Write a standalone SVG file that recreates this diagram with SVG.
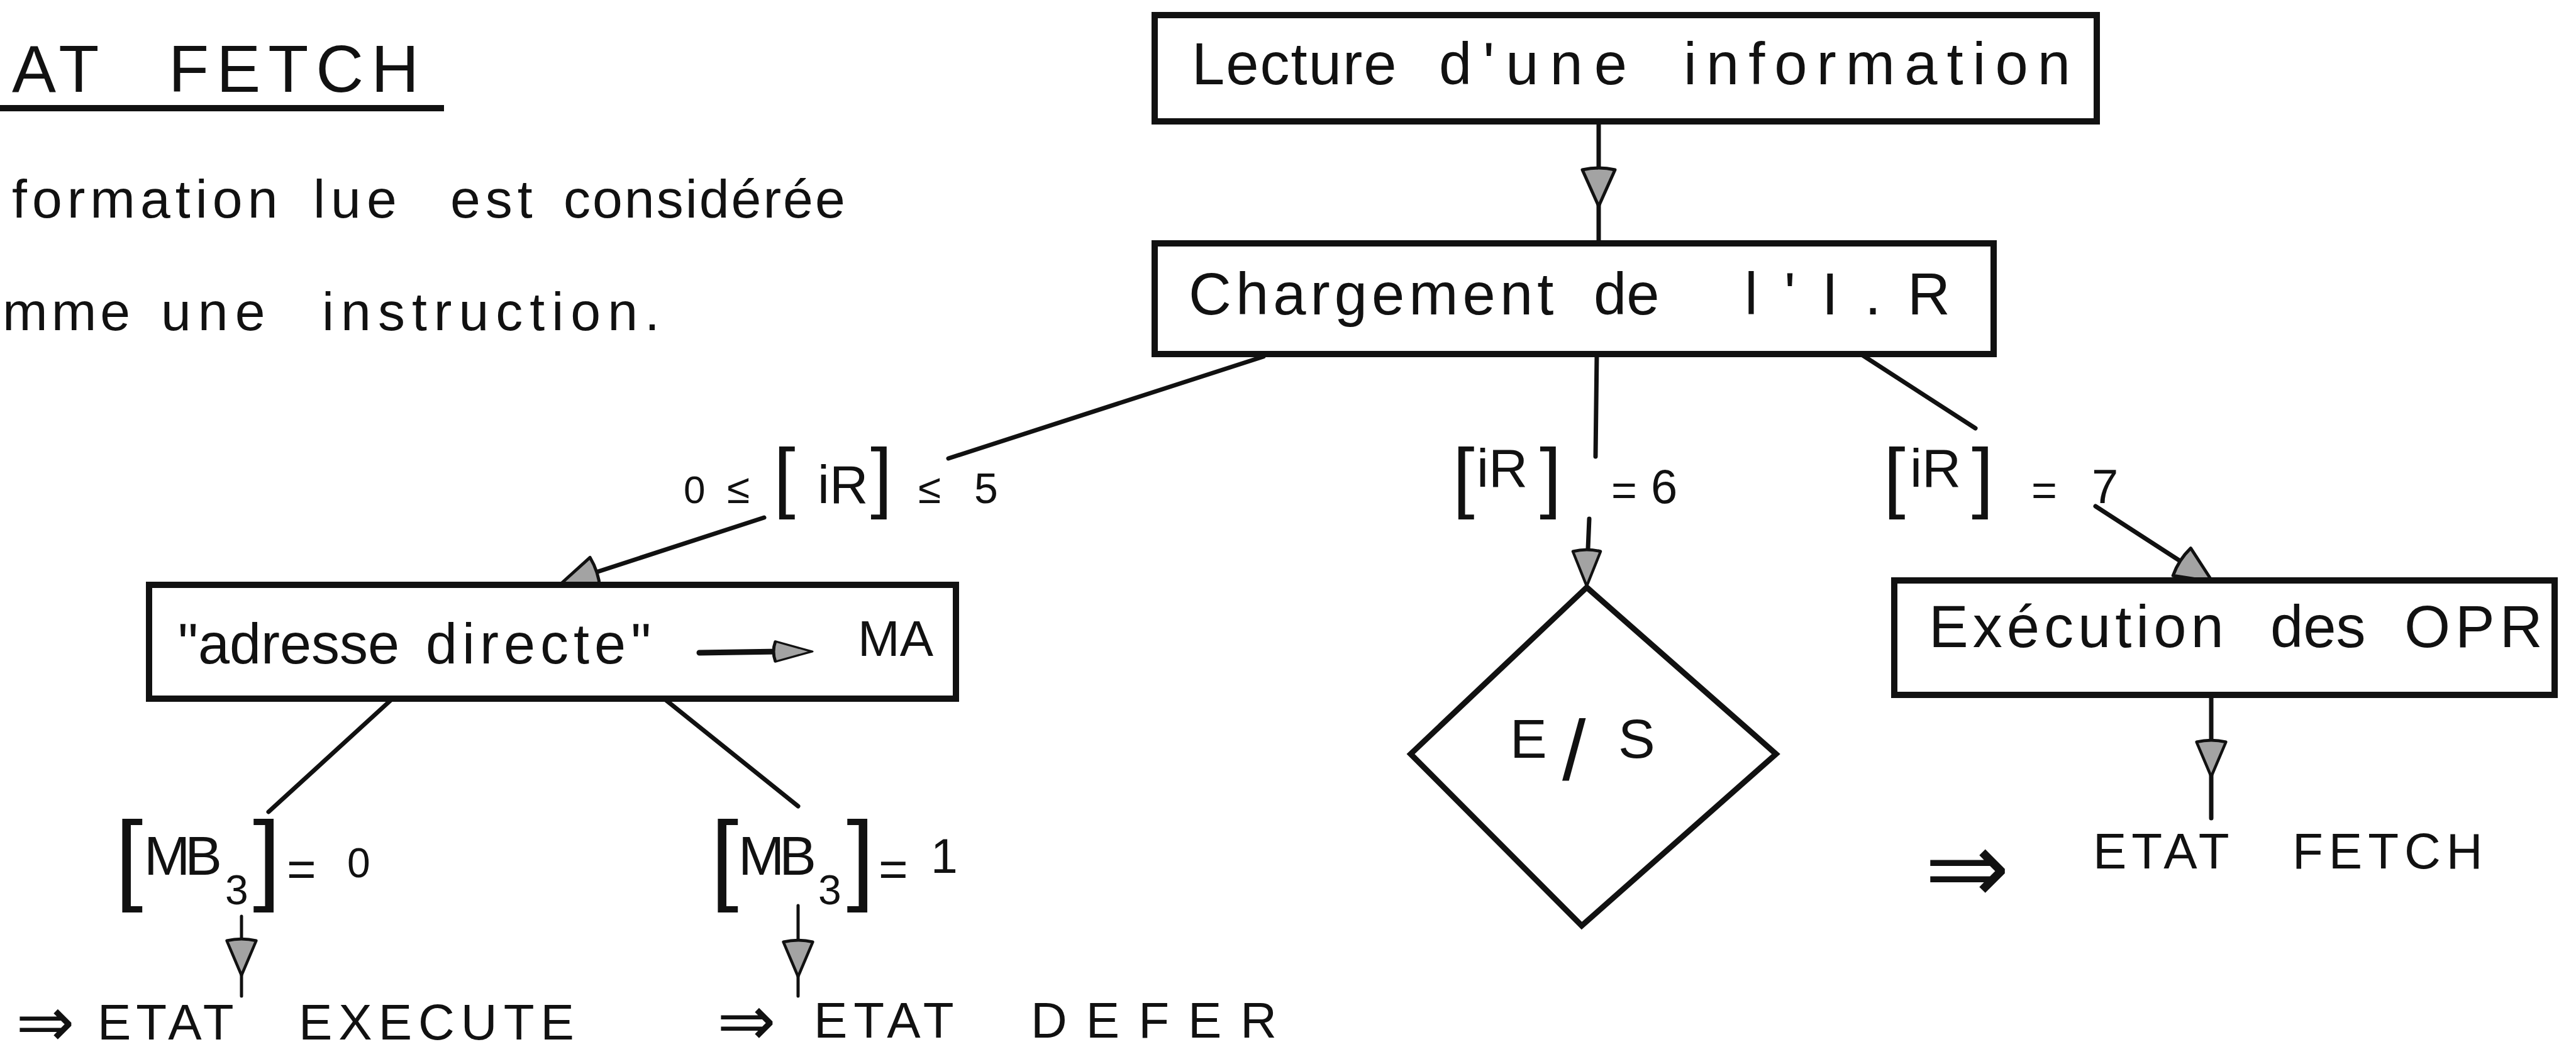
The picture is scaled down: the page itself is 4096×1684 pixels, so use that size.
<svg xmlns="http://www.w3.org/2000/svg" width="4096" height="1684" viewBox="0 0 4096 1684">
<style>
.bg{fill:#ffffff}
.box{fill:#ffffff;stroke:#111;stroke-width:10;stroke-linejoin:miter}
.ln{stroke:#111;stroke-width:7;stroke-linecap:round;fill:none}
.thin{stroke-width:5}
.t{font-family:"Liberation Sans",Arial,sans-serif;fill:#111}
.cur{font-size:94px}
.cap{font-size:80px}
.sym{font-family:"DejaVu Sans",sans-serif;fill:#111}
.ah{fill:#a3a3a3;stroke:#111;stroke-width:5;stroke-linejoin:round}
</style>
<defs>
<path id="ah" class="ah" d="M0,0 L-26,-58 Q0,-64 26,-58 Z"/>
</defs>
<rect class="bg" x="0" y="0" width="4096" height="1684"/>

<g id="title">
<text class="t" font-size="105" letter-spacing="12" y="146"><tspan x="19">AT </tspan><tspan x="268">FETCH</tspan></text>
<line x1="0" y1="172" x2="706" y2="172" stroke="#111" stroke-width="10"/>
</g>

<g id="intro">
<text class="t" font-size="86" y="346"><tspan x="19" letter-spacing="8">formation </tspan><tspan x="498" letter-spacing="9">lue </tspan><tspan x="716" letter-spacing="8">est </tspan><tspan x="896" letter-spacing="3">considérée</tspan></text>
<text class="t" font-size="86" y="525"><tspan x="4" letter-spacing="6">mme </tspan><tspan x="256" letter-spacing="11">une </tspan><tspan x="512" letter-spacing="11">instruction.</tspan></text>
</g>

<g id="connectors">
<line class="ln" x1="2542" y1="193" x2="2542" y2="387"/>
<line class="ln" x1="2009" y1="567" x2="1508" y2="729"/>
<line class="ln" x1="1215" y1="823" x2="920" y2="919"/>
<line class="ln" x1="2539" y1="563" x2="2537" y2="726"/>
<line class="ln" x1="2527" y1="825" x2="2523" y2="920"/>
<line class="ln" x1="2954" y1="560" x2="3141" y2="681"/>
<line class="ln" x1="3332" y1="805" x2="3505" y2="917"/>
<line class="ln" x1="3516" y1="1105" x2="3516" y2="1301"/>
<line class="ln" x1="624" y1="1111" x2="427" y2="1291"/>
<line class="ln" x1="1056" y1="1111" x2="1269" y2="1282"/>
<line class="ln thin" x1="384" y1="1457" x2="384" y2="1584"/>
<line class="ln thin" x1="1269" y1="1440" x2="1269" y2="1584"/>
<use href="#ah" transform="translate(2542,328)"/>
<use href="#ah" transform="translate(891,929) rotate(72.1)"/>
<use href="#ah" transform="translate(2523,932) scale(0.85,0.95)"/>
<use href="#ah" transform="translate(3518,925) rotate(-57.1)"/>
<use href="#ah" transform="translate(3516,1235) scale(0.9,0.95)"/>
<use href="#ah" transform="translate(384,1551) scale(0.9,0.95)"/>
<use href="#ah" transform="translate(1269,1553) scale(0.9,0.95)"/>
</g>

<g id="edge-labels">
<text class="t" y="800"><tspan x="1087" font-size="62">0</tspan><tspan x="1156" font-size="66">≤</tspan><tspan x="1230" font-size="125">[</tspan><tspan x="1300" font-size="85">iR</tspan><tspan x="1384" font-size="125">]</tspan><tspan x="1460" font-size="66">≤</tspan><tspan x="1549" font-size="68">5</tspan></text>
<text class="t" y="800"><tspan x="2310" font-size="125">[</tspan><tspan x="2348" y="774" font-size="86">iR</tspan><tspan x="2448" y="800" font-size="125">]</tspan><tspan x="2562" y="804" font-size="70">=</tspan><tspan x="2625" y="800" font-size="76">6</tspan></text>
<text class="t" y="800"><tspan x="2995" font-size="125">[</tspan><tspan x="3037" y="774" font-size="86">iR</tspan><tspan x="3135" y="800" font-size="125">]</tspan><tspan x="3230" y="804" font-size="70">=</tspan><tspan x="3326" y="800" font-size="76">7</tspan></text>
<text class="t" y="1418"><tspan x="183" font-size="160">[</tspan><tspan x="229" y="1391" font-size="88" letter-spacing="-8">MB</tspan><tspan x="358" y="1438" font-size="66">3</tspan><tspan x="402" y="1418" font-size="160">]</tspan><tspan x="456" y="1409" font-size="80">=</tspan><tspan x="552" y="1395" font-size="66">0</tspan></text>
<text class="t" y="1418"><tspan x="1130" font-size="160">[</tspan><tspan x="1174" y="1391" font-size="88" letter-spacing="-8">MB</tspan><tspan x="1301" y="1438" font-size="66">3</tspan><tspan x="1346" y="1418" font-size="160">]</tspan><tspan x="1397" y="1409" font-size="80">=</tspan><tspan x="1480" y="1388" font-size="77">1</tspan></text>
</g>

<g id="n-lecture">
<rect class="box" x="1836" y="24" width="1498" height="169"/>
<text class="t cur" y="134"><tspan x="1895" letter-spacing="2">Lecture </tspan><tspan x="2288" letter-spacing="18">d'une </tspan><tspan x="2677" letter-spacing="15">information</tspan></text>
</g>

<g id="n-chargement">
<rect class="box" x="1836" y="387" width="1334" height="176"/>
<text class="t cur" y="500"><tspan x="1890" letter-spacing="7">Chargement </tspan><tspan x="2534">de </tspan><tspan x="2774" letter-spacing="42">l'I.R</tspan></text>
</g>

<g id="n-adresse">
<rect class="box" x="237" y="930" width="1283" height="181"/>
<text class="t" font-size="90" y="1055"><tspan x="283">"adresse </tspan><tspan x="677" letter-spacing="8">directe"</tspan></text>
<line x1="1112" y1="1038" x2="1240" y2="1036" stroke="#111" stroke-width="9" stroke-linecap="round"/>
<use href="#ah" transform="translate(1291,1036) rotate(-90) scale(0.62,1.0)"/>
<text class="t cap" x="1364" y="1043">MA</text>
</g>

<g id="n-es">
<polygon points="2523,934 2824,1199 2515,1472 2243,1199" fill="#ffffff" stroke="#111" stroke-width="9" stroke-linejoin="miter"/>
<text class="t" font-size="88" y="1205"><tspan x="2401">E</tspan><tspan x="2484" y="1240" font-size="135">/</tspan><tspan x="2573" y="1205">S</tspan></text>
</g>

<g id="n-execution">
<rect class="box" x="3012" y="923" width="1050" height="182"/>
<text class="t cur" y="1029"><tspan x="3067" letter-spacing="7">Exécution </tspan><tspan x="3610">des </tspan><tspan x="3823" letter-spacing="8">OPR</tspan></text>
</g>

<g id="n-state-fetch">
<text class="t cap" y="1381"><tspan class="sym" x="3060" y="1436" font-size="162">⇒</tspan><tspan x="3328" y="1381" letter-spacing="8">ETAT </tspan><tspan x="3645" letter-spacing="9">FETCH</tspan></text>
</g>

<g id="n-state-execute">
<text class="t cap" y="1653"><tspan class="sym" x="25" y="1664" font-size="112">⇒</tspan><tspan x="155" y="1653" letter-spacing="8">ETAT </tspan><tspan x="475" letter-spacing="10">EXECUTE</tspan></text>
</g>

<g id="n-state-defer">
<text class="t cap" y="1650"><tspan class="sym" x="1140" y="1662" font-size="112">⇒</tspan><tspan x="1294" y="1650" letter-spacing="10">ETAT </tspan><tspan x="1639" letter-spacing="30">DEFER</tspan></text>
</g>
</svg>
